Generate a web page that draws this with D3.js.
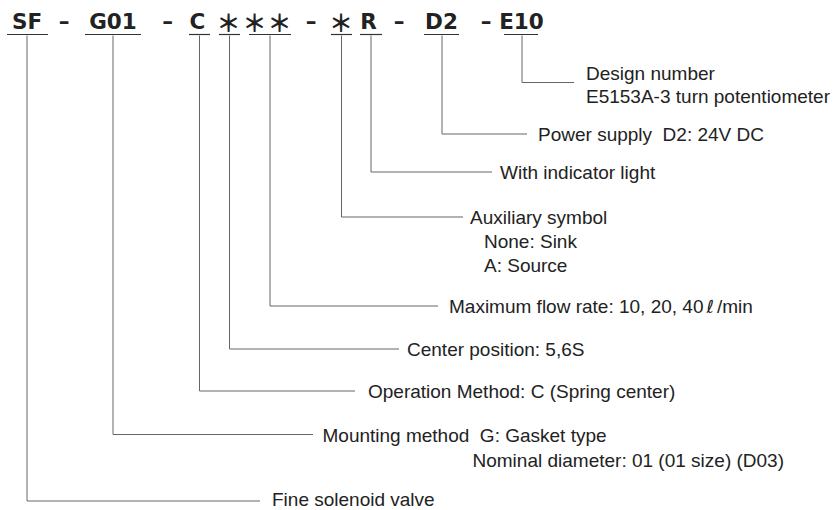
<!DOCTYPE html>
<html>
<head>
<meta charset="utf-8">
<script src="https://cdn.jsdelivr.net/npm/d3@7"></script>
<style>
  html, body { margin: 0; padding: 0; background: #fff; }
  svg { display: block; }
  text { white-space: pre; }
</style>
</head>
<body>
<svg id="chart" width="837" height="510"></svg>
<script>
// ---- data ----
const headerTokens = ["SF", "–", "G01", "–", "C", "＊", "＊＊", "–", "＊", "R", "–", "D2", "–", "E10"];
const segmentCodes = ["SF", "G01", "C", "＊", "＊＊", "＊", "R", "D2", "E10"];
const segmentDescriptions = [
  ["Fine solenoid valve"],
  ["Mounting method  G: Gasket type", "Nominal diameter: 01 (01 size) (D03)"],
  ["Operation Method: C (Spring center)"],
  ["Center position: 5,6S"],
  ["Maximum flow rate: 10, 20, 40ℓ/min"],
  ["Auxiliary symbol", "None: Sink", "A: Source"],
  ["With indicator light"],
  ["Power supply  D2: 24V DC"],
  ["Design number", "E5153A-3 turn potentiometer"]
];

// ---- layout ----
const tokenX = [27, 64, 113, 167.5, 197.5, 228.5, 267.5, 311, 341, 368.5, 399, 441.5, 486, 521.5];
const underline = [[7, 48], [85, 141], [189, 210], [219, 240], [249, 291], [331, 352], [360, 382], [424, 459], [504, 538]];
const stemX = [27, 113, 199.5, 229.5, 270, 341.5, 371, 442, 522];
const levelY = [501, 434.5, 391, 349, 306, 217, 172, 134, 82.5];
const lineEnd = [260, 313, 355, 399, 438, 463, 492, 527, 574];
const textX = [272, 322.5, 368, 407, 449, 470, 500, 538, 586];
const subIndentX = { 1: [322.5, 472.5], 5: [470, 484, 484], 8: [586, 586] };
const firstBaseline = { 0: 506, 8: 80 };
const lineStep = { 1: 25.5, 5: 24, 8: 23 };

const svg = d3.select("#chart");
const bodyFont = "'Liberation Sans', Arial, sans-serif";
const isStar = d => d.includes("＊");

// header tokens
svg.append("g").selectAll("text")
  .data(headerTokens)
  .join("text")
  .attr("x", (d, i) => tokenX[i])
  .attr("y", d => isStar(d) ? 21 : 28.5)
  .attr("text-anchor", "middle")
  .attr("dominant-baseline", d => isStar(d) ? "central" : "auto")
  .attr("font-family", d => isStar(d) ? "'Noto Sans CJK JP', sans-serif" : "'DejaVu Sans', sans-serif")
  .attr("font-weight", 700)
  .attr("font-size", d => isStar(d) ? 24 : 21.5)
  .attr("letter-spacing", d => d === "＊＊" ? 1 : 0)
  .attr("fill", "#222")
  .text(d => d);

// underlines
svg.append("g").selectAll("line")
  .data(segmentCodes)
  .join("line")
  .attr("x1", (d, i) => underline[i][0])
  .attr("x2", (d, i) => underline[i][1])
  .attr("y1", 34.5).attr("y2", 34.5)
  .attr("stroke", "#333").attr("stroke-width", 1.2);

// connectors
svg.append("g").selectAll("path")
  .data(segmentCodes)
  .join("path")
  .attr("d", (d, i) => {
    const p = d3.path();
    p.moveTo(stemX[i], 35.5);
    p.lineTo(stemX[i], levelY[i]);
    p.lineTo(lineEnd[i], levelY[i]);
    return p.toString();
  })
  .attr("fill", "none")
  .attr("stroke", "#666")
  .attr("stroke-width", 1);

// descriptions
const labels = svg.append("g")
  .attr("font-family", bodyFont)
  .attr("font-size", 19)
  .attr("fill", "#222");

segmentDescriptions.forEach((lines, i) => {
  const base = firstBaseline[i] !== undefined ? firstBaseline[i] : levelY[i] + 7;
  lines.forEach((ln, j) => {
    const x = subIndentX[i] ? subIndentX[i][j] : textX[i];
    const t = labels.append("text")
      .attr("x", x)
      .attr("y", base + j * (lineStep[i] || 24));
    if (ln.includes("ℓ")) {
      const parts = ln.split("ℓ");
      t.append("tspan").text(parts[0]);
      t.append("tspan")
        .attr("font-family", "'DejaVu Sans', sans-serif")
        .attr("font-weight", 400)
        .attr("font-size", 18)
        .attr("dx", 3)
        .text("ℓ");
      t.append("tspan").attr("dx", 3).text(parts[1]);
    } else {
      t.text(ln);
    }
  });
});
</script>
</body>
</html>
